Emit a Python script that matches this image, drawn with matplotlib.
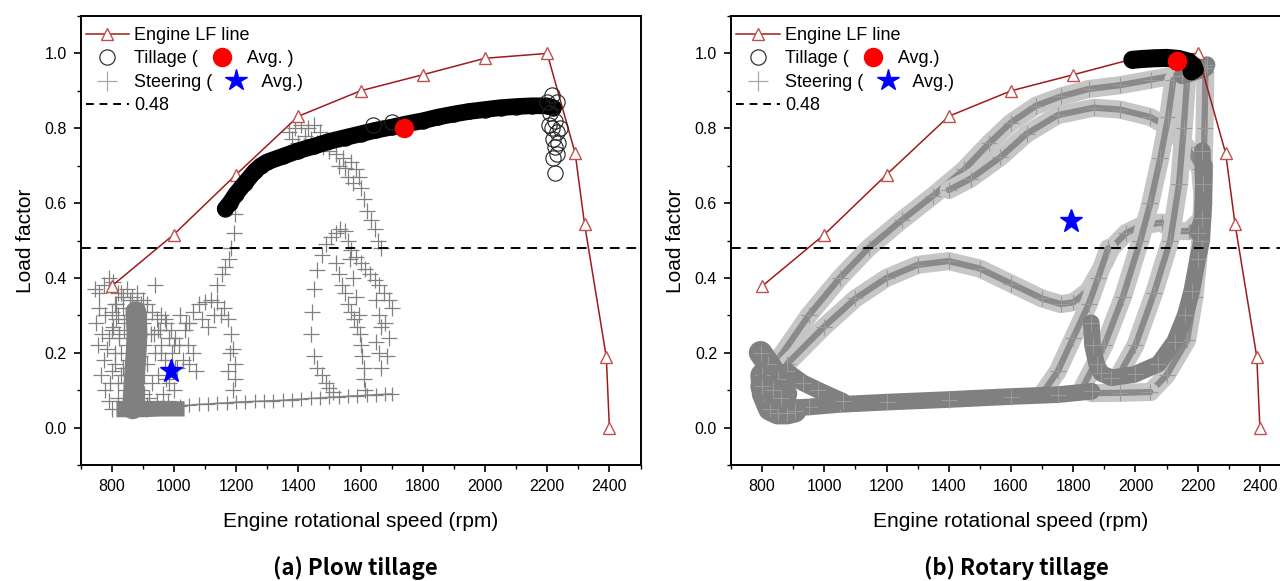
import numpy as np
import matplotlib.pyplot as plt
from matplotlib.lines import Line2D

plt.rcParams['font.family'] = ['Liberation Sans', 'DejaVu Sans']

# engine load-factor line (same in both panels)
lf_rpm = [800, 1000, 1200, 1400, 1600, 1800, 2000, 2200, 2290, 2320, 2390, 2400]
lf_val = [0.378, 0.516, 0.676, 0.832, 0.90, 0.943, 0.987, 1.0, 0.733, 0.545, 0.189, 0.0]
ref_lf = 0.48

# ---- (a) plow tillage ----
a_till_x = [1165, 1180, 1200, 1230, 1260, 1280, 1300, 1350, 1400, 1450, 1500, 1550, 1600,
            1650, 1700, 1750, 1800, 1850, 1900, 1950, 2000, 2050, 2100, 2150, 2200, 2220]
a_till_y = [0.585, 0.60, 0.625, 0.655, 0.685, 0.70, 0.71, 0.725, 0.74, 0.752, 0.765, 0.775, 0.785,
            0.795, 0.803, 0.812, 0.82, 0.83, 0.838, 0.845, 0.85, 0.855, 0.858, 0.86, 0.86, 0.855]
a_till_sx = [1640, 1700, 2215, 2230, 2210, 2225, 2215, 2230, 2220, 2235, 2225, 2230, 2220, 2225, 2205, 2240, 2200]
a_till_sy = [0.81, 0.818, 0.89, 0.87, 0.84, 0.82, 0.80, 0.79, 0.77, 0.76, 0.75, 0.73, 0.72, 0.68, 0.81, 0.80, 0.87]
a_till_avg = (1740, 0.80)

# dense core of the low-speed steering cloud
a_core_x = [868, 872, 878, 882, 878]
a_core_y = [0.05, 0.12, 0.19, 0.25, 0.31]
a_block_x = [840, 900, 960, 1010]
a_block_y = [0.048, 0.048, 0.05, 0.05]

# steering points, read as (rpm, load factor) pairs
a_steer = [
    # low-speed cloud
    (745, 0.37), (760, 0.36), (775, 0.38), (790, 0.40), (805, 0.39), (760, 0.32), (750, 0.28),
    (770, 0.25), (780, 0.30), (755, 0.22), (775, 0.18), (765, 0.14), (780, 0.10), (790, 0.07),
    (800, 0.05), (785, 0.21), (800, 0.26), (810, 0.33), (820, 0.36), (835, 0.35), (850, 0.37),
    (865, 0.35), (880, 0.36), (900, 0.34), (915, 0.33), (930, 0.31), (945, 0.29), (960, 0.30),
    (975, 0.28), (990, 0.26), (1005, 0.24), (1015, 0.22), (800, 0.15), (810, 0.20), (820, 0.12),
    (825, 0.25), (840, 0.28), (850, 0.22), (900, 0.28), (905, 0.22), (915, 0.17), (930, 0.12),
    (940, 0.20), (950, 0.14), (960, 0.22), (970, 0.18), (985, 0.12), (995, 0.20), (1000, 0.10),
    (1010, 0.16), (920, 0.08), (945, 0.07), (965, 0.09), (980, 0.07), (895, 0.10), (905, 0.14),
    (890, 0.19), (895, 0.25), (925, 0.25), (950, 0.26), (835, 0.16), (845, 0.10), (830, 0.20),
    (815, 0.29), (800, 0.31), (1020, 0.30), (1035, 0.26), (1045, 0.22), (1030, 0.18), (1050, 0.17),
    (1060, 0.20), (1070, 0.15), (1050, 0.28), (820, 0.30), (835, 0.32), (850, 0.29), (825, 0.24),
    (840, 0.26), (855, 0.18), (830, 0.14), (845, 0.12), (820, 0.08), (835, 0.07), (850, 0.06),
    (900, 0.31), (910, 0.29), (895, 0.33), (905, 0.09), (915, 0.06), (890, 0.12), (900, 0.07),
    (910, 0.05), (795, 0.12), (810, 0.17), (790, 0.24), (805, 0.27), (815, 0.33), (830, 0.36),
    (860, 0.34), (880, 0.33), (940, 0.38), (955, 0.26), (970, 0.29), (985, 0.24), (1000, 0.22),
    (935, 0.25), (960, 0.20), (975, 0.13), (1005, 0.16),
    # arch 1020-1200 rpm
    (1040, 0.28), (1060, 0.31), (1080, 0.33), (1100, 0.335), (1120, 0.34), (1140, 0.335),
    (1160, 0.32), (1175, 0.29), (1185, 0.25), (1190, 0.21), (1195, 0.17), (1195, 0.13),
    (1190, 0.10), (1090, 0.29), (1110, 0.27), (1130, 0.30), (1150, 0.30), (1180, 0.20), (1175, 0.15),
    # trail below the tillage start
    (1198, 0.57), (1192, 0.52), (1185, 0.48), (1176, 0.45), (1165, 0.43), (1155, 0.41), (1140, 0.38),
    # upper branch 1370-1665 rpm
    (1370, 0.79), (1390, 0.80), (1410, 0.81), (1430, 0.80), (1450, 0.81), (1470, 0.79), (1380, 0.77),
    (1400, 0.76), (1420, 0.78), (1440, 0.77), (1460, 0.76), (1480, 0.75), (1500, 0.74), (1520, 0.73),
    (1545, 0.72), (1570, 0.71), (1585, 0.69), (1595, 0.67), (1600, 0.64), (1610, 0.61), (1620, 0.58),
    (1635, 0.555), (1645, 0.53), (1655, 0.50), (1665, 0.48), (1530, 0.70), (1550, 0.695),
    (1560, 0.67), (1575, 0.655),
    # arch 1450-1700 rpm
    (1450, 0.37), (1460, 0.42), (1475, 0.46), (1490, 0.49), (1505, 0.51), (1520, 0.52), (1535, 0.53),
    (1550, 0.525), (1560, 0.50), (1570, 0.475), (1585, 0.455), (1600, 0.44), (1615, 0.425),
    (1630, 0.41), (1645, 0.395), (1660, 0.38), (1675, 0.36), (1690, 0.34),
    (1520, 0.44), (1530, 0.41), (1540, 0.38), (1550, 0.36), (1560, 0.33), (1570, 0.31), (1580, 0.29),
    (1590, 0.27), (1597, 0.25), (1600, 0.22), (1605, 0.19), (1610, 0.16), (1612, 0.13), (1615, 0.10),
    (1445, 0.31), (1440, 0.25), (1450, 0.19), (1460, 0.16), (1475, 0.14), (1490, 0.12), (1500, 0.107),
    (1510, 0.095), (1650, 0.34), (1660, 0.30), (1665, 0.27), (1650, 0.23), (1660, 0.20), (1665, 0.16),
    (1680, 0.28), (1690, 0.24), (1700, 0.32), (1685, 0.19), (1565, 0.45), (1575, 0.40), (1585, 0.35),
    (1595, 0.30),
]
a_line_x = [1020, 1050, 1080, 1110, 1140, 1170, 1200, 1230, 1260, 1290, 1320, 1350, 1380, 1410,
            1440, 1470, 1500, 1530, 1560, 1590, 1620, 1650, 1680, 1700]
a_line_y = [0.058, 0.060, 0.062, 0.063, 0.065, 0.066, 0.068, 0.069, 0.070, 0.071, 0.072, 0.073,
            0.075, 0.076, 0.078, 0.079, 0.081, 0.082, 0.084, 0.085, 0.086, 0.088, 0.089, 0.09]
a_steer_avg = (992, 0.15)

# ---- (b) rotary tillage ----
b_till_x = [1990, 2020, 2060, 2100, 2140, 2170, 2185, 2190, 2180]
b_till_y = [0.983, 0.985, 0.987, 0.988, 0.985, 0.978, 0.968, 0.958, 0.952]
b_till_avg = (2135, 0.98)

b_knot1 = ([795, 820, 850, 875], [0.20, 0.17, 0.13, 0.09])
b_knot2 = ([800, 805, 825, 850, 880, 905], [0.14, 0.09, 0.05, 0.04, 0.04, 0.045])
b_knot3 = ([800, 835, 860], [0.11, 0.10, 0.08])
b_bottom = ([840, 950, 1050, 1200, 1400, 1600, 1750, 1860],
            [0.05, 0.055, 0.062, 0.068, 0.075, 0.083, 0.088, 0.097])
b_bottom_tail = ([1860, 1950, 2048], [0.092, 0.093, 0.095])
b_diag = ([880, 930, 980, 1060], [0.15, 0.12, 0.10, 0.07])
b_upper = ([850, 950, 1050, 1142, 1250, 1350, 1450, 1530, 1600, 1680, 1760, 1850, 1950, 2050, 2150, 2210],
           [0.18, 0.30, 0.40, 0.48, 0.555, 0.62, 0.69, 0.76, 0.815, 0.86, 0.885, 0.905, 0.915, 0.93, 0.945, 0.955])
b_upper2 = ([1400, 1470, 1565, 1650, 1750, 1866, 1950, 2048, 2110, 2166, 2208, 2215, 2215],
            [0.635, 0.665, 0.722, 0.785, 0.835, 0.855, 0.85, 0.83, 0.80, 0.75, 0.69, 0.62, 0.56])
b_lower = ([880, 1000, 1100, 1200, 1300, 1400, 1500, 1600, 1700, 1761, 1800, 1848, 1900, 1923,
            1970, 2019, 2084, 2126, 2171, 2215],
           [0.17, 0.27, 0.345, 0.40, 0.435, 0.445, 0.425, 0.385, 0.345, 0.33, 0.335, 0.365, 0.44, 0.48,
            0.52, 0.54, 0.548, 0.525, 0.525, 0.56])
b_rise = ([1700, 1750, 1800, 1850, 1880, 1913], [0.09, 0.15, 0.24, 0.33, 0.40, 0.48])
b_spike = ([1858, 1862, 1875, 1890, 1923, 1997, 2074, 2126, 2160, 2181, 2200, 2213, 2220, 2222],
           [0.28, 0.22, 0.17, 0.145, 0.133, 0.142, 0.17, 0.23, 0.30, 0.365, 0.45, 0.50, 0.60, 0.70])
b_r3 = ([1832, 1900, 1960, 2016, 2048, 2080, 2105, 2122], [0.11, 0.22, 0.35, 0.50, 0.60, 0.72, 0.83, 0.93])
b_r4 = ([1940, 2000, 2060, 2112, 2140, 2155, 2166], [0.13, 0.22, 0.36, 0.50, 0.65, 0.80, 0.93])
b_r5 = ([2048, 2100, 2166, 2190, 2208, 2218, 2222, 2225], [0.095, 0.14, 0.233, 0.35, 0.50, 0.65, 0.80, 0.95])
b_vert = ([2215, 2218, 2215, 2200], [0.74, 0.65, 0.56, 0.52])
b_top = ([2150, 2190, 2225, 2230], [0.94, 0.95, 0.96, 0.97])
b_steer_avg = (1794, 0.553)

GRAY = '#808080'


def band(ax, xy, dark=False, lw=12):
    xs, ys = xy
    if dark:
        ax.plot(xs, ys, color=GRAY, lw=lw, solid_capstyle='round', solid_joinstyle='round', zorder=2)
    else:
        ax.plot(xs, ys, color='#c6c6c6', lw=13, solid_capstyle='round', solid_joinstyle='round', zorder=2)
        ax.plot(xs, ys, color='#8a8a8a', lw=4.5, solid_capstyle='round', zorder=2)
    ax.plot(xs, ys, ls='none', marker='+', ms=11, mec='#9a9a9a', mew=0.8, zorder=2)


def style_axes(ax):
    ax.set_xlim(700, 2500)
    ax.set_ylim(-0.1, 1.1)
    ax.set_xticks([800, 1000, 1200, 1400, 1600, 1800, 2000, 2200, 2400])
    ax.set_xticks(np.arange(700, 2501, 100), minor=True)
    ax.set_yticks([0.0, 0.2, 0.4, 0.6, 0.8, 1.0])
    ax.set_yticks(np.arange(-0.1, 1.11, 0.1), minor=True)
    ax.yaxis.set_major_formatter(plt.FormatStrFormatter('%.1f'))
    ax.tick_params(which='major', direction='out', length=5, width=1.2, labelsize=11.5, pad=5)
    ax.tick_params(which='minor', direction='out', length=3, width=1.0)
    for s in ax.spines.values():
        s.set_linewidth(1.4)
    ax.set_xlabel('Engine rotational speed (rpm)', fontsize=15, labelpad=13)
    ax.set_ylabel('Load factor', fontsize=15, labelpad=7)
    ax.axhline(ref_lf, color='black', ls=(0, (5, 3.5)), lw=1.4, zorder=4)
    ax.plot(lf_rpm, lf_val, color='#9e1b1b', lw=1.1, marker='^', ms=9, mfc='white',
            mec='#c0504d', mew=1.0, zorder=3)


def legend(ax, till_label, circ_x, star_x):
    handles = [
        Line2D([], [], color='#9e1b1b', lw=1.1, marker='^', ms=9, mfc='white', mec='#c0504d'),
        Line2D([], [], ls='none', marker='o', ms=11, mfc='none', mec='#333333', mew=0.9),
        Line2D([], [], ls='none', marker='+', ms=14, mec='#a8a8a8', mew=0.9),
        Line2D([], [], color='black', ls=(0, (4, 3)), lw=1.4),
    ]
    labels = ['Engine LF line', till_label, 'Steering (          Avg.)', '0.48']
    ax.legend(handles, labels, loc='upper left', bbox_to_anchor=(-0.01, 1.0), frameon=False,
              fontsize=13, handlelength=2.4, handletextpad=0.3, labelspacing=0.36,
              borderaxespad=0.3, borderpad=0.3)
    ax.plot([circ_x], [0.908], transform=ax.transAxes, marker='o', ms=13, color='#ff0000',
            ls='none', clip_on=False, zorder=6)
    ax.plot([star_x], [0.857], transform=ax.transAxes, marker='*', ms=16, color='#0000ff',
            ls='none', clip_on=False, zorder=6)


fig = plt.figure(figsize=(12.8, 5.81), dpi=100)
ax1 = fig.add_axes([80.5 / 1280, 116 / 581, 560 / 1280, 449 / 581])
ax2 = fig.add_axes([731 / 1280, 116 / 581, 560 / 1280, 449 / 581])

# panel (a)
style_axes(ax1)
steer_x = [p[0] for p in a_steer]
steer_y = [p[1] for p in a_steer]
ax1.plot(a_core_x, a_core_y, color=GRAY, lw=15, solid_capstyle='round', zorder=2)
ax1.plot(a_block_x, a_block_y, color=GRAY, lw=11, zorder=2)
ax1.plot(steer_x, steer_y, ls='none', marker='+', ms=11, mec=GRAY, mew=0.9, zorder=2)
ax1.plot(a_line_x, a_line_y, color=GRAY, lw=1.0, marker='+', ms=10, mec=GRAY, mew=0.9, zorder=2)
ax1.plot(a_till_x, a_till_y, color='black', lw=12, solid_capstyle='round', zorder=5)
ax1.plot(a_till_x, a_till_y, ls='none', marker='o', ms=11, mfc='none', mec='black', mew=0.8, zorder=5)
ax1.plot(a_till_sx, a_till_sy, ls='none', marker='o', ms=11, mfc='none', mec='#222222', mew=0.8, zorder=5)
ax1.plot(*a_till_avg, marker='o', ms=13, color='#ff0000', zorder=7)
ax1.plot(*a_steer_avg, marker='*', ms=17, color='#0000ff', zorder=7)
legend(ax1, 'Tillage (          Avg. )', 0.253, 0.278)

# panel (b)
style_axes(ax2)
for seg in (b_upper, b_upper2, b_lower, b_rise, b_r3, b_r4, b_r5, b_bottom_tail):
    band(ax2, seg)
for seg in (b_bottom, b_diag, b_spike, b_vert, b_top):
    band(ax2, seg, dark=True)
for seg in (b_knot1, b_knot2, b_knot3):
    band(ax2, seg, dark=True, lw=17)
ax2.plot(b_till_x, b_till_y, color='black', lw=13, solid_capstyle='round', zorder=5)
ax2.plot(b_till_x, b_till_y, ls='none', marker='o', ms=11, mfc='none', mec='black', mew=0.8, zorder=5)
ax2.plot(*b_till_avg, marker='o', ms=13, color='#ff0000', zorder=7)
ax2.plot(*b_steer_avg, marker='*', ms=17, color='#0000ff', zorder=7)
legend(ax2, 'Tillage (          Avg.)', 0.254, 0.280)

fig.text(355 / 1280, 1 - 568 / 581, '(a) Plow tillage', ha='center', va='center',
         fontsize=16, fontweight='bold', family=['Noto Sans CJK KR', 'DejaVu Sans'])
fig.text(1016 / 1280, 1 - 568 / 581, '(b) Rotary tillage', ha='center', va='center',
         fontsize=16, fontweight='bold', family=['Noto Sans CJK KR', 'DejaVu Sans'])

fig.savefig('out.png', dpi=100)
